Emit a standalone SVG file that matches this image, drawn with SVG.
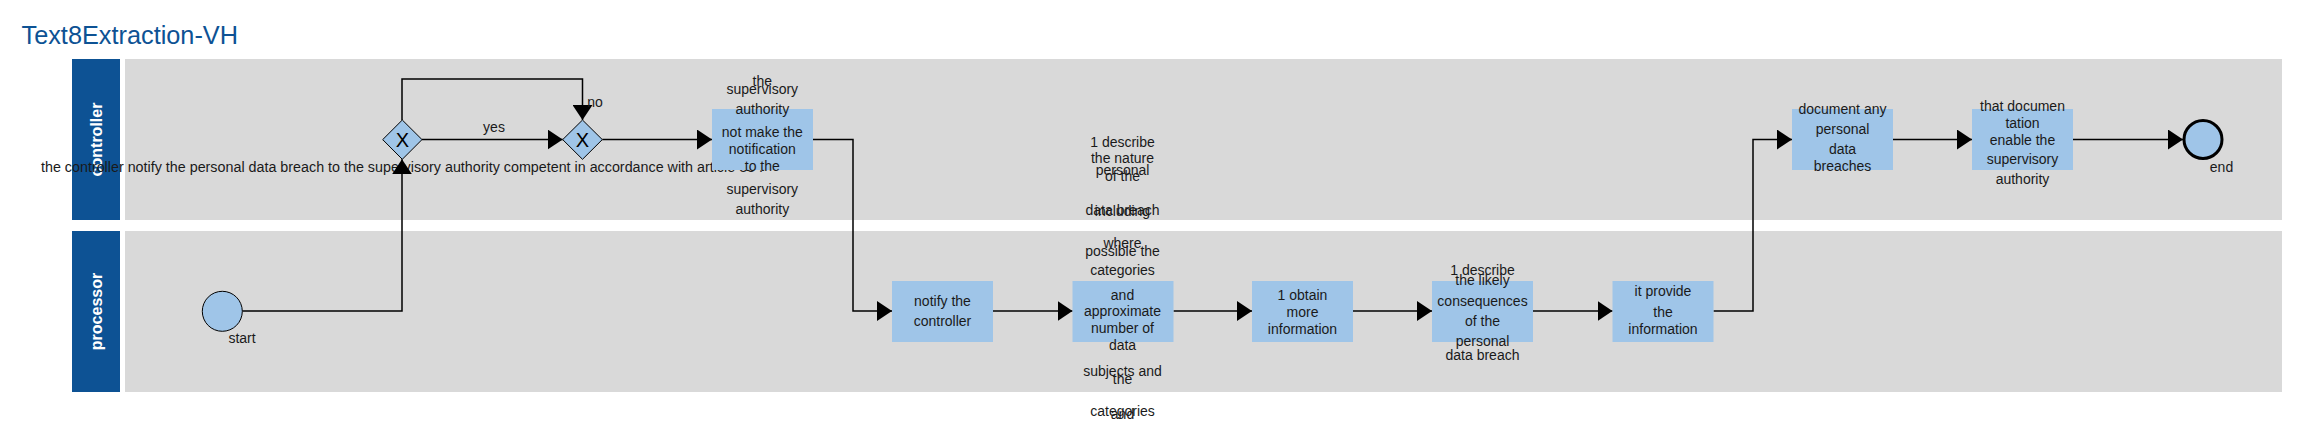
<svg xmlns="http://www.w3.org/2000/svg" width="2299" height="433" viewBox="0 0 2299 433">
<style>
.lane{fill:#d9d9d9}
.hdr{fill:#0d5294}
.hdrt{fill:#ffffff;font-family:"Liberation Sans",Arial,sans-serif;font-size:16px;font-weight:bold;text-anchor:middle}
.task{fill:#9fc5e8}
.t{fill:#1a1a1a;font-family:"Liberation Sans",Arial,sans-serif;font-size:14px;text-anchor:middle}
.gw{fill:#9fc5e8;stroke:#000;stroke-width:1}
.gx{fill:#000;font-family:"Liberation Sans",Arial,sans-serif;font-size:20px;text-anchor:middle}
.c{fill:none;stroke:#000;stroke-width:1.5}
.title{fill:#0d5294;font-family:"Liberation Sans",Arial,sans-serif;font-size:25.3px}
</style>
<defs>
<marker id="arr" markerUnits="userSpaceOnUse" markerWidth="15" markerHeight="20" refX="15" refY="10" orient="auto" viewBox="0 0 15 20">
<path d="M0,0 L15,10 L0,20 Z" fill="#000"/>
</marker>
</defs>
<rect width="2299" height="433" fill="#ffffff"/>
<text class="title" x="21.5" y="44.3">Text8Extraction-VH</text>

<g id="lane-controller">
<rect class="hdr" x="72" y="59" width="48" height="161"/>
<rect class="lane" x="125" y="59" width="2157" height="161"/>
<text class="hdrt" transform="translate(102,139.5) rotate(-90)">controller</text>
</g>
<g id="lane-processor">
<rect class="hdr" x="72" y="231" width="48" height="161"/>
<rect class="lane" x="125" y="231" width="2157" height="161"/>
<text class="hdrt" transform="translate(102,311.5) rotate(-90)">processor</text>
</g>

<g id="gateway1-label">
<text class="t" x="402" y="171.7" textLength="722" lengthAdjust="spacingAndGlyphs">the controller notify the personal data breach to the supervisory authority competent in accordance with article 33 .</text>
</g>

<g id="connectors">
<polyline class="c" points="242.3,311 402,311 402,159.3" marker-end="url(#arr)"/>
<polyline class="c" points="402,120 402,79 582.5,79 582.5,120" marker-end="url(#arr)"/>
<polyline class="c" points="422,139.5 562.7,139.5" marker-end="url(#arr)"/>
<polyline class="c" points="602.3,139.5 712,139.5" marker-end="url(#arr)"/>
<polyline class="c" points="813,139.5 853,139.5 853,311 892,311" marker-end="url(#arr)"/>
<polyline class="c" points="993,311 1072.5,311" marker-end="url(#arr)"/>
<polyline class="c" points="1173.5,311 1252,311" marker-end="url(#arr)"/>
<polyline class="c" points="1353,311 1432,311" marker-end="url(#arr)"/>
<polyline class="c" points="1533,311 1612.5,311" marker-end="url(#arr)"/>
<polyline class="c" points="1713.5,311 1753,311 1753,139.5 1792,139.5" marker-end="url(#arr)"/>
<polyline class="c" points="1893,139.5 1972,139.5" marker-end="url(#arr)"/>
<polyline class="c" points="2073,139.5 2183,139.5" marker-end="url(#arr)"/>
<text class="t" x="494" y="131.7">yes</text>
<text class="t" x="595" y="106.7">no</text>
</g>

<g id="start">
<circle cx="222.3" cy="311.3" r="20" fill="#9fc5e8" stroke="#000" stroke-width="1"/>
<text class="t" x="242" y="343">start</text>
</g>

<g id="gateway1">
<polygon class="gw" points="402.3,120 422,139.6 402.3,159.3 382.7,139.6"/>
<text class="gx" x="402.3" y="146.8">X</text>
</g>

<g id="gateway2">
<polygon class="gw" points="582.5,120 602.3,139.6 582.5,159.3 562.7,139.6"/>
<text class="gx" x="582.5" y="146.8">X</text>
</g>

<g id="task1">
<rect class="task" x="712" y="109" width="101" height="61"/>
<text class="t" x="762.3" y="86">the</text>
<text class="t" x="762.3" y="94.3">supervisory</text>
<text class="t" x="762.3" y="114.3">authority</text>
<text class="t" x="762.3" y="136.7">not make the</text>
<text class="t" x="762.3" y="154">notification</text>
<text class="t" x="762.3" y="171">to the</text>
<text class="t" x="762.3" y="194.3">supervisory</text>
<text class="t" x="762.3" y="214">authority</text>
</g>

<g id="task2">
<rect class="task" x="892" y="281" width="101" height="61"/>
<text class="t" x="942.5" y="306">notify the</text>
<text class="t" x="942.5" y="326">controller</text>
</g>

<g id="task3">
<rect class="task" x="1072.5" y="281" width="101" height="61"/>
<text class="t" x="1122.5" y="146.7">1 describe</text>
<text class="t" x="1122.5" y="163.3">the nature</text>
<text class="t" x="1122.5" y="175">personal</text>
<text class="t" x="1122.5" y="180.7">of the</text>
<text class="t" x="1122.5" y="215">data breach</text>
<text class="t" x="1122.5" y="216">including</text>
<text class="t" x="1122.5" y="248.3">where</text>
<text class="t" x="1122.5" y="256">possible the</text>
<text class="t" x="1122.5" y="275">categories</text>
<text class="t" x="1122.5" y="300">and</text>
<text class="t" x="1122.5" y="316">approximate</text>
<text class="t" x="1122.5" y="333.3">number of</text>
<text class="t" x="1122.5" y="350">data</text>
<text class="t" x="1122.5" y="375.7">subjects and</text>
<text class="t" x="1122.5" y="384.3">the</text>
<text class="t" x="1122.5" y="415.7">categories</text>
<text class="t" x="1122.5" y="418.5">and</text>
</g>

<g id="task4">
<rect class="task" x="1252" y="281" width="101" height="61"/>
<text class="t" x="1302.5" y="300">1 obtain</text>
<text class="t" x="1302.5" y="316.7">more</text>
<text class="t" x="1302.5" y="334">information</text>
</g>

<g id="task5">
<rect class="task" x="1432" y="281" width="101" height="61"/>
<text class="t" x="1482.5" y="275">1 describe</text>
<text class="t" x="1482.5" y="285">the likely</text>
<text class="t" x="1482.5" y="306">consequences</text>
<text class="t" x="1482.5" y="326">of the</text>
<text class="t" x="1482.5" y="346">personal</text>
<text class="t" x="1482.5" y="360">data breach</text>
</g>

<g id="task6">
<rect class="task" x="1612.5" y="281" width="101" height="61"/>
<text class="t" x="1663" y="296">it provide</text>
<text class="t" x="1663" y="316.7">the</text>
<text class="t" x="1663" y="334">information</text>
</g>

<g id="task7">
<rect class="task" x="1792" y="109" width="101" height="61"/>
<text class="t" x="1842.5" y="114.3">document any</text>
<text class="t" x="1842.5" y="134">personal</text>
<text class="t" x="1842.5" y="154">data</text>
<text class="t" x="1842.5" y="170.7">breaches</text>
</g>

<g id="task8">
<rect class="task" x="1972" y="109" width="101" height="61"/>
<text class="t" x="2022.5" y="111">that documen</text>
<text class="t" x="2022.5" y="128.3">tation</text>
<text class="t" x="2022.5" y="145">enable the</text>
<text class="t" x="2022.5" y="164.3">supervisory</text>
<text class="t" x="2022.5" y="184">authority</text>
</g>

<g id="end">
<circle cx="2203" cy="139.5" r="19" fill="#9fc5e8" stroke="#000" stroke-width="3"/>
<text class="t" x="2221.5" y="172">end</text>
</g>
</svg>
